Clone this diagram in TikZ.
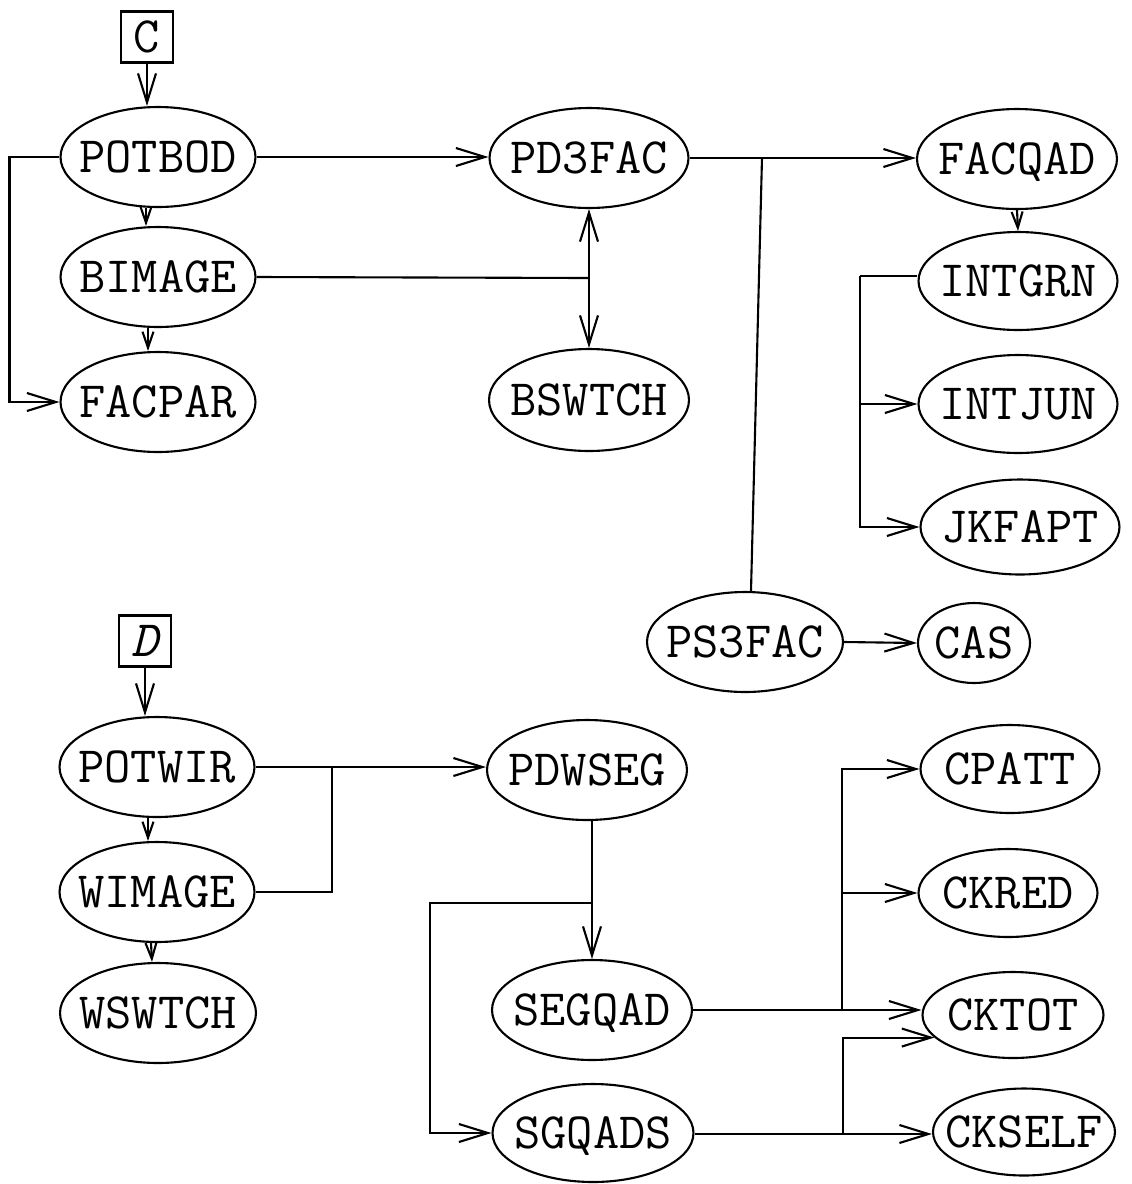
\documentclass[tikz,border=0pt]{standalone}
\usetikzlibrary{shapes.geometric,arrows.meta,calc}
\newcommand{\lbl}[1]{\raisebox{-0.305em}[0pt][0pt]{\makebox[0pt]{#1}}}
\begin{document}
\begin{tikzpicture}[x=0.02cm,y=-0.02cm,
  ell/.style={ellipse,draw,line width=1.2pt,inner sep=0pt,minimum width=3.9cm,minimum height=2cm,
    font=\ttfamily\fontsize{29}{32}\selectfont},
  lbox/.style={rectangle,draw,line width=1.2pt,inner sep=0pt,minimum width=1.05cm,minimum height=1.02cm,
    font=\ttfamily\fontsize{29}{32}\selectfont},
  ln/.style={line width=1.2pt},
  arr/.style={line width=1.2pt,-{Straight Barb[length=0.58cm,width=0.36cm]}},
  sarr/.style={line width=1.2pt,-{Straight Barb[length=0.32cm,width=0.22cm]}}]
\useasboundingbox (0,0) rectangle (1132,1184);

% ---- upper group ----
\node[lbox] (C) at (147,37) {\lbl{C}};
\node[ell] (POTBOD) at (158,157) {\lbl{POTBOD}};
\node[ell] (BIMAGE) at (158,277) {\lbl{BIMAGE}};
\node[ell] (FACPAR) at (158,402) {\lbl{FACPAR}};
\node[ell,minimum width=3.98cm] (PD3FAC) at (589,158) {\lbl{PD3FAC}};
\node[ell,minimum width=4cm,minimum height=2.04cm] (BSWTCH) at (589,400) {\lbl{BSWTCH}};
\node[ell,minimum width=4cm] (FACQAD) at (1017,159) {\lbl{FACQAD}};
\node[ell,minimum width=3.98cm,minimum height=1.96cm] (INTGRN) at (1018,281) {\lbl{INTGRN}};
\node[ell,minimum width=3.98cm,minimum height=1.96cm] (INTJUN) at (1018,404) {\lbl{INTJUN}};
\node[ell,minimum width=3.98cm,minimum height=1.9cm] (JKFAPT) at (1020,527) {\lbl{JKFAPT}};
\node[ell,minimum width=3.92cm] (PS3FAC) at (745,642) {\lbl{PS3FAC}};
\node[ell,minimum width=2.24cm,minimum height=1.6cm] (CAS) at (974,643) {\lbl{CAS}};

\draw[arr] (C.south) -- (C.south |- POTBOD.north);
\draw[sarr] ($(POTBOD.south)+(-12,0)$) -- ($(BIMAGE.north)+(-12,0)$);
\draw[sarr] ($(BIMAGE.south)+(-10,0)$) -- ($(FACPAR.north)+(-10,0)$);
\draw[arr] (POTBOD.west) -- ++(-50,0) |- (FACPAR.west);
\draw[arr] (POTBOD.east) -- (POTBOD.east -| PD3FAC.west);
\coordinate (j1) at (589,278);
\draw[ln] (BIMAGE.east) -- (j1);
\draw[arr] (j1) -- (PD3FAC.south);
\draw[arr] (j1) -- (BSWTCH.north);
\coordinate (j2) at (762,158);
\draw[arr] (PD3FAC.east) -- (PD3FAC.east -| FACQAD.west);
\draw[ln] (j2) -- ($(PS3FAC.north)+(6,0)$);
\draw[sarr] (FACQAD.south) -- (INTGRN.north);
\coordinate (j3) at (860,276);
\draw[ln] (INTGRN.west |- j3) -- (j3);
\draw[arr] (j3) |- (JKFAPT.west);
\draw[arr] (j3 |- INTJUN.west) -- (INTJUN.west);
\draw[arr] (PS3FAC.east) -- (CAS.west);

% ---- lower group ----
\node[lbox,font=\ttfamily\itshape\fontsize{29}{32}\selectfont] (D) at (145,641) {\lbl{D}};
\node[ell] (POTWIR) at (157,767) {\lbl{POTWIR}};
\node[ell] (WIMAGE) at (157,892) {\lbl{WIMAGE}};
\node[ell,minimum width=3.92cm] (WSWTCH) at (158,1013) {\lbl{WSWTCH}};
\node[ell,minimum width=4cm] (PDWSEG) at (587,770) {\lbl{PDWSEG}};
\node[ell,minimum width=4cm] (SEGQAD) at (592,1010) {\lbl{SEGQAD}};
\node[ell,minimum width=4.02cm,minimum height=1.96cm] (SGQADS) at (593,1133) {\lbl{SGQADS}};
\node[ell,minimum width=3.58cm,minimum height=1.76cm] (CPATT) at (1010,769) {\lbl{CPATT}};
\node[ell,minimum width=3.58cm,minimum height=1.76cm] (CKRED) at (1008,893) {\lbl{CKRED}};
\node[ell,minimum width=3.62cm,minimum height=1.72cm] (CKTOT) at (1013,1015) {\lbl{CKTOT}};
\node[ell,minimum width=3.64cm,minimum height=1.74cm] (CKSELF) at (1024,1132) {\lbl{CKSELF}};

\draw[arr] (D.south) -- (D.south |- POTWIR.north);
\draw[sarr] ($(POTWIR.south)+(-9,0)$) -- ($(WIMAGE.north)+(-9,0)$);
\draw[sarr] ($(WIMAGE.south)+(-6,0)$) -- ($(WSWTCH.north)+(-6,0)$);
\coordinate (j4) at (332,767);
\draw[arr] (POTWIR.east) -- (POTWIR.east -| PDWSEG.west);
\draw[ln] (WIMAGE.east) -| (j4);
\draw[arr] (PDWSEG.south -| SEGQAD.north) -- (SEGQAD.north);
\coordinate (j5) at (592,903);
\draw[arr] (j5) -- (430,903) |- (SGQADS.west);
\coordinate (j6) at (842,1010);
\draw[arr] (SEGQAD.east) -- (SEGQAD.east -| CKTOT.west);
\draw[arr] (j6) |- (CPATT.west);
\draw[arr] (j6 |- CKRED.west) -- (CKRED.west);
\coordinate (j7) at (843,1134);
\draw[arr] (SGQADS.east |- j7) -- (j7 -| CKSELF.west);
\draw[arr] (j7) |- (CKTOT.196);
\end{tikzpicture}
\end{document}
